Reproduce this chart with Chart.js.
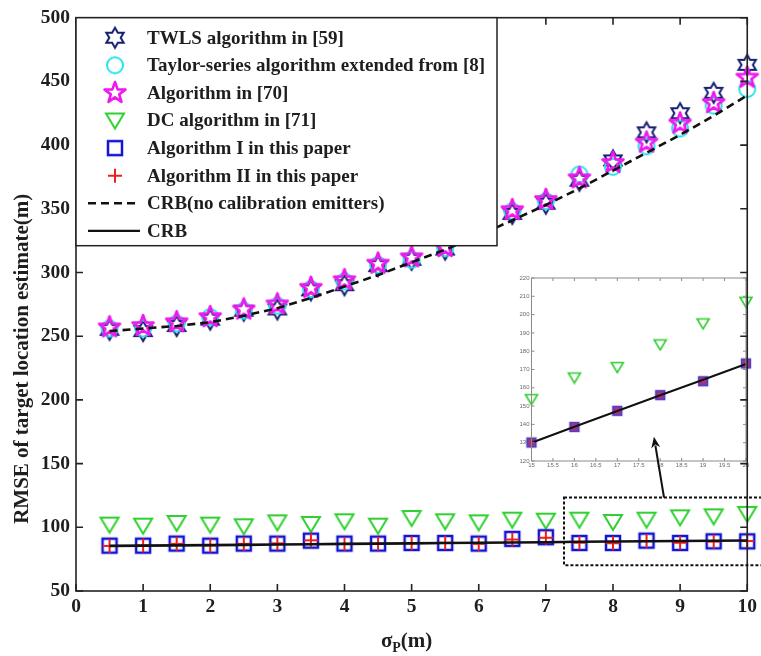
<!DOCTYPE html>
<html>
<head>
<meta charset="utf-8">
<script src="https://cdn.jsdelivr.net/npm/chart.js@4.4.1/dist/chart.umd.min.js"></script>
<style>
  html, body { margin: 0; padding: 0; background: #fff; }
  #wrap { position: relative; width: 761px; height: 656px; overflow: hidden; }
  #wrap canvas { position: absolute; }
  #inset { left: 505px; top: 268px; }
  #main { left: 0; top: 0; }
</style>
</head>
<body>
<div id="wrap">
  <canvas id="inset" width="250" height="205"></canvas>
  <canvas id="main" width="761" height="656"></canvas>
</div>
<script>
// ---- data -------------------------------------------------------------
const sigma = [0.5, 1, 1.5, 2, 2.5, 3, 3.5, 4, 4.5, 5, 5.5, 6, 6.5, 7, 7.5, 8, 8.5, 9, 9.5, 10];

const twls     = [255, 254, 258, 263, 270, 271, 286, 290, 305, 310, 318, 331, 346, 354, 372, 388, 410, 425, 441, 463];
const taylor   = [256, 256, 260, 265, 270, 274, 287, 293, 306, 310, 319, 331, 348, 356, 377, 383, 399, 413, 431, 444];
const alg70    = [257, 258, 261, 265, 271, 275, 288, 294, 307, 312, 320, 332, 349, 357, 374, 386, 402, 417, 433, 453];
const dcAlg    = [102.1, 101.3, 103.4, 102.1, 100.8, 103.9, 102.6, 104.7, 101.3, 107.3, 104.7, 103.9, 106.0, 105.2, 106.0, 104.2, 106.0, 107.8, 108.6, 110.5];
const algI     = [85.6, 85.6, 87.2, 85.6, 87.2, 87.2, 89.5, 87.2, 87.2, 87.7, 87.7, 87.2, 90.9, 92.2, 87.7, 87.7, 89.5, 87.7, 89.0, 89.0];
const algII    = [85.4, 85.8, 87.0, 85.8, 87.0, 87.4, 89.8, 87.0, 87.2, 87.5, 87.9, 87.0, 90.4, 91.8, 87.9, 87.5, 89.2, 87.9, 88.8, 89.2];
const crbNoCal = [254, 256, 258, 261, 266, 272, 280, 289, 298, 308, 318, 329, 341, 353, 366, 380, 394, 408, 423, 439];
const crb      = [85.4, 85.6, 85.8, 86.0, 86.2, 86.5, 86.7, 87.0, 87.2, 87.4, 87.7, 87.9, 88.1, 88.3, 88.6, 88.8, 89.0, 89.2, 89.4, 89.6];

const seriesNames = [
  'TWLS algorithm in [59]',
  'Taylor-series algorithm extended from [8]',
  'Algorithm in [70]',
  'DC algorithm in [71]',
  'Algorithm I in this paper',
  'Algorithm II in this paper',
  'CRB(no calibration emitters)',
  'CRB'
];

// zoomed-in panel
const zoomSigma = [15, 16, 17, 18, 19, 20];
const zoomDC    = [153.8, 165.6, 171.3, 183.7, 195.2, 207.0];
const zoomAlg   = [130.1, 138.6, 147.4, 156.0, 163.6, 173.3];
const zoomCRB   = [130.0, 138.7, 147.3, 155.9, 164.4, 173.0];

// axis ranges / tick steps
const xRange = [0, 10], xStep = 1;
const yRange = [50, 500], yStep = 50;
const zoomXRange = [15, 20], zoomXStep = 0.5;
const zoomYRange = [120, 220], zoomYStep = 10;

// highlighted region (dotted box) and arrow toward the zoom panel, in data units
const boxX = [7.27, 10.3], boxY = [70.3, 123.4];
const arrowFrom = [8.76, 123.4], arrowTo = [8.61, 171];

// ---- marker glyphs ----------------------------------------------------
function glyph(w, h, draw) {
  const c = document.createElement('canvas');
  c.width = w; c.height = h;
  const g = c.getContext('2d');
  g.translate(w / 2, h / 2);
  draw(g);
  return c;
}
function starPath(g, n, rOut, rIn) {
  g.beginPath();
  for (let i = 0; i < 2 * n; i++) {
    const r = i % 2 === 0 ? rOut : rIn;
    const a = -Math.PI / 2 + i * Math.PI / n;
    const px = r * Math.cos(a), py = r * Math.sin(a);
    if (i === 0) g.moveTo(px, py); else g.lineTo(px, py);
  }
  g.closePath();
}
const mkHexagram  = glyph(26, 26, g => { g.strokeStyle = '#17206f'; g.lineWidth = 2; starPath(g, 6, 10, 5.7); g.stroke(); });
const mkCircle    = glyph(22, 22, g => { g.strokeStyle = '#26e2ea'; g.lineWidth = 2; g.beginPath(); g.arc(0, 0, 8, 0, Math.PI * 2); g.stroke(); });
const mkPentagram = glyph(26, 26, g => { g.strokeStyle = '#ee18ee'; g.lineWidth = 2.6; g.lineJoin = 'round'; starPath(g, 5, 11, 4.4); g.stroke(); });
const mkTriangle  = glyph(24, 22, g => { g.strokeStyle = '#2fd02f'; g.lineWidth = 2; g.beginPath(); g.moveTo(-9, -7); g.lineTo(9, -7); g.lineTo(0, 8); g.closePath(); g.stroke(); });
const mkSquare    = glyph(20, 20, g => { g.strokeStyle = '#1414d2'; g.lineWidth = 2.5; g.strokeRect(-7, -7, 14, 14); });
const mkPlus      = glyph(20, 20, g => { g.strokeStyle = '#f01c1c'; g.lineWidth = 2; g.beginPath(); g.moveTo(-7, 0); g.lineTo(7, 0); g.moveTo(0, -7); g.lineTo(0, 7); g.stroke(); });
const mkSmallTri  = glyph(16, 14, g => { g.strokeStyle = '#30cc30'; g.lineWidth = 1.6; g.beginPath(); g.moveTo(-6, -4.5); g.lineTo(6, -4.5); g.lineTo(0, 5.5); g.closePath(); g.stroke(); });
const mkSmallSq   = glyph(14, 14, g => {
  g.fillStyle = '#94358f'; g.fillRect(-4.5, -4.5, 9, 9);
  g.strokeStyle = '#4c3ec8'; g.lineWidth = 1.4; g.strokeRect(-4.5, -4.5, 9, 9);
  g.strokeStyle = '#d0306a'; g.lineWidth = 0.8; g.beginPath(); g.moveTo(-3, 0); g.lineTo(3, 0); g.moveTo(0, -3); g.lineTo(0, 3); g.stroke();
});

const pts = (xs, ys) => xs.map((v, i) => ({ x: v, y: ys[i] }));

function markerSet(label, ys, style, order) {
  return { label, data: pts(sigma, ys), showLine: false, pointStyle: style, pointRadius: 8, clip: false, order };
}
function lineSet(label, ys, dash, order) {
  return { label, data: pts(sigma, ys), showLine: true, pointRadius: 0, borderColor: '#111', borderWidth: 2.6,
           borderDash: dash, fill: false, order, clip: false };
}

// ---- drawing helpers (frame, inward ticks) -----------------------------
function drawFrame(chart, color, width, len) {
  const { ctx, chartArea: a, scales: { x, y } } = chart;
  ctx.save();
  ctx.strokeStyle = color; ctx.lineWidth = width;
  ctx.strokeRect(a.left, a.top, a.right - a.left, a.bottom - a.top);
  ctx.beginPath();
  x.ticks.forEach(t => {
    const p = x.getPixelForValue(t.value);
    ctx.moveTo(p, a.bottom); ctx.lineTo(p, a.bottom - len);
    ctx.moveTo(p, a.top); ctx.lineTo(p, a.top + len);
  });
  y.ticks.forEach(t => {
    const p = y.getPixelForValue(t.value);
    ctx.moveTo(a.left, p); ctx.lineTo(a.left + len, p);
    ctx.moveTo(a.right, p); ctx.lineTo(a.right - len, p);
  });
  ctx.stroke();
  ctx.restore();
}

const serif = '"Liberation Serif", "Times New Roman", serif';
const textColor = '#1e1e1e';

const mainDecor = {
  id: 'mainDecor',
  afterDatasetsDraw(chart) {
    const { ctx, chartArea: a, scales: { x, y } } = chart;
    drawFrame(chart, '#222', 1.6, 7);

    // dotted box around the magnified region
    ctx.save();
    ctx.strokeStyle = '#111'; ctx.lineWidth = 2; ctx.setLineDash([3, 2]);
    const bx0 = x.getPixelForValue(boxX[0]), bx1 = x.getPixelForValue(boxX[1]);
    const by0 = y.getPixelForValue(boxY[1]), by1 = y.getPixelForValue(boxY[0]);
    ctx.strokeRect(bx0, by0, bx1 - bx0, by1 - by0);
    ctx.restore();

    // arrow toward the zoom panel
    ctx.save();
    const ax0 = x.getPixelForValue(arrowFrom[0]), ay0 = y.getPixelForValue(arrowFrom[1]);
    const ax1 = x.getPixelForValue(arrowTo[0]), ay1 = y.getPixelForValue(arrowTo[1]);
    const ang = Math.atan2(ay1 - ay0, ax1 - ax0), head = 11;
    const c = Math.cos(ang), s = Math.sin(ang);
    ctx.strokeStyle = '#111'; ctx.fillStyle = '#111'; ctx.lineWidth = 2;
    ctx.beginPath(); ctx.moveTo(ax0, ay0);
    ctx.lineTo(ax1 - head * 0.8 * c, ay1 - head * 0.8 * s); ctx.stroke();
    ctx.beginPath(); ctx.moveTo(ax1, ay1);
    ctx.lineTo(ax1 - head * c + 4.5 * s, ay1 - head * s - 4.5 * c);
    ctx.lineTo(ax1 - head * 0.7 * c, ay1 - head * 0.7 * s);
    ctx.lineTo(ax1 - head * c - 4.5 * s, ay1 - head * s + 4.5 * c);
    ctx.closePath(); ctx.fill();
    ctx.restore();

    // legend box drawn over the data
    const lx = a.left, ly = a.top, lw = 421, lh = 228;
    ctx.save();
    ctx.fillStyle = '#fff'; ctx.fillRect(lx, ly, lw, lh);
    ctx.strokeStyle = '#222'; ctx.lineWidth = 1.5; ctx.strokeRect(lx, ly, lw, lh);
    ctx.font = 'bold 19px ' + serif;
    ctx.fillStyle = textColor; ctx.textAlign = 'left'; ctx.textBaseline = 'middle';
    chart.data.datasets.forEach((d, i) => {
      const ry = ly + 20 + i * 27.6;
      const mx = lx + 39;
      if (d.showLine) {
        ctx.save();
        ctx.strokeStyle = '#111'; ctx.lineWidth = 2.4; ctx.setLineDash(d.borderDash || []);
        ctx.beginPath(); ctx.moveTo(lx + 12, ry); ctx.lineTo(lx + 64, ry); ctx.stroke();
        ctx.restore();
      } else {
        ctx.drawImage(d.pointStyle, mx - d.pointStyle.width / 2, ry - d.pointStyle.height / 2);
      }
      ctx.fillText(d.label, lx + 71, ry + 1);
    });
    ctx.restore();

    // y axis title
    ctx.save();
    ctx.fillStyle = textColor;
    ctx.font = 'bold 21px ' + serif;
    ctx.textAlign = 'center'; ctx.textBaseline = 'middle';
    ctx.translate(23, a.top + (a.bottom - a.top) * 0.595);
    ctx.rotate(-Math.PI / 2);
    ctx.fillText('RMSE of target location estimate(m)', 0, 0);
    ctx.restore();

    // x axis title with subscript
    ctx.save();
    ctx.fillStyle = textColor; ctx.textBaseline = 'alphabetic'; ctx.textAlign = 'left';
    const big = 'bold 21px ' + serif, small = 'bold 14px ' + serif;
    ctx.font = big; const w1 = ctx.measureText('σ').width, w3 = ctx.measureText('(m)').width;
    ctx.font = small; const w2 = ctx.measureText('P').width;
    const cx = (a.left + a.right) / 2 - 5, base = a.bottom + 56;
    let sx = cx - (w1 + w2 + w3) / 2;
    ctx.font = big; ctx.fillText('σ', sx, base); sx += w1;
    ctx.font = small; ctx.fillText('P', sx, base + 5); sx += w2;
    ctx.font = big; ctx.fillText('(m)', sx, base);
    ctx.restore();
  }
};

// ---- main chart -------------------------------------------------------
new Chart(document.getElementById('main'), {
  type: 'scatter',
  data: {
    datasets: [
      markerSet(seriesNames[0], twls, mkHexagram, 8),
      markerSet(seriesNames[1], taylor, mkCircle, 7),
      markerSet(seriesNames[2], alg70, mkPentagram, 6),
      markerSet(seriesNames[3], dcAlg, mkTriangle, 5),
      markerSet(seriesNames[4], algI, mkSquare, 4),
      markerSet(seriesNames[5], algII, mkPlus, 3),
      lineSet(seriesNames[6], crbNoCal, [8, 5], 2),
      lineSet(seriesNames[7], crb, [], 1)
    ]
  },
  options: {
    responsive: false,
    animation: false,
    devicePixelRatio: 1,
    layout: { padding: { top: 17, right: 9, left: 0, bottom: 0 } },
    plugins: { legend: { display: false }, tooltip: { enabled: false } },
    scales: {
      x: {
        type: 'linear', min: xRange[0], max: xRange[1],
        ticks: { stepSize: xStep, font: { family: serif, weight: 'bold', size: 19.5 }, color: textColor, padding: 4, maxRotation: 0, autoSkip: false },
        grid: { display: false, drawTicks: false }, border: { display: false },
        afterFit(sc) { sc.height = 65; }
      },
      y: {
        type: 'linear', min: yRange[0], max: yRange[1],
        ticks: { stepSize: yStep, font: { family: serif, weight: 'bold', size: 19.5 }, color: textColor, padding: 6, autoSkip: false },
        grid: { display: false, drawTicks: false }, border: { display: false },
        afterFit(sc) { sc.width = 76; }
      }
    }
  },
  plugins: [mainDecor]
});

// ---- zoom panel -------------------------------------------------------
const insetDecor = {
  id: 'insetDecor',
  beforeDatasetsDraw(chart) {
    const { ctx, chartArea: a } = chart;
    ctx.save(); ctx.fillStyle = '#fff'; ctx.fillRect(a.left, a.top, a.right - a.left, a.bottom - a.top); ctx.restore();
  },
  afterDatasetsDraw(chart) { drawFrame(chart, '#8a8a8a', 1, 3); }
};
const tinyFont = { family: '"Liberation Sans", Arial, sans-serif', size: 6 };
new Chart(document.getElementById('inset'), {
  type: 'scatter',
  data: {
    datasets: [
      { label: seriesNames[3], data: pts(zoomSigma, zoomDC), showLine: false, pointStyle: mkSmallTri, pointRadius: 6, clip: false, order: 3 },
      { label: seriesNames[4], data: pts(zoomSigma, zoomAlg), showLine: false, pointStyle: mkSmallSq, pointRadius: 5, clip: false, order: 2 },
      { label: seriesNames[7], data: pts(zoomSigma, zoomCRB), showLine: true, pointRadius: 0, borderColor: '#111', borderWidth: 2, clip: false, order: 1 }
    ]
  },
  options: {
    responsive: false,
    animation: false,
    devicePixelRatio: 1,
    layout: { padding: { top: 10, right: 9, left: 0, bottom: 0 } },
    plugins: { legend: { display: false }, tooltip: { enabled: false } },
    scales: {
      x: {
        type: 'linear', min: zoomXRange[0], max: zoomXRange[1],
        ticks: { stepSize: zoomXStep, font: tinyFont, color: '#6a6a6a', padding: 1, maxRotation: 0, autoSkip: false,
                 callback: v => String(+v) },
        grid: { display: false, drawTicks: false }, border: { display: false },
        afterFit(sc) { sc.height = 12; }
      },
      y: {
        type: 'linear', min: zoomYRange[0], max: zoomYRange[1],
        ticks: { stepSize: zoomYStep, font: tinyFont, color: '#6a6a6a', padding: 2, autoSkip: false },
        grid: { display: false, drawTicks: false }, border: { display: false },
        afterFit(sc) { sc.width = 26.5; }
      }
    }
  },
  plugins: [insetDecor]
});
</script>
</body>
</html>
